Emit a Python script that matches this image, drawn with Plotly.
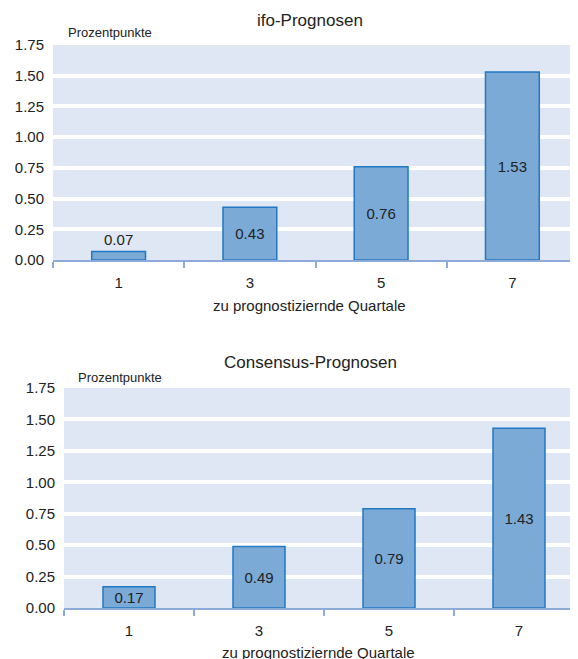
import plotly.graph_objects as go

categories = ["1", "3", "5", "7"]
ifo_values = [0.07, 0.43, 0.76, 1.53]
consensus_values = [0.17, 0.49, 0.79, 1.43]
ifo_labels = ["0.07", "0.43", "0.76", "1.53"]
consensus_labels = ["0.17", "0.49", "0.79", "1.43"]
ifo_textpos = ["outside", "inside", "inside", "inside"]
consensus_textpos = ["inside", "inside", "inside", "inside"]
y_tickvals = [0, 0.25, 0.5, 0.75, 1.0, 1.25, 1.5, 1.75]
y_ticktext = ["0.00", "0.25", "0.50", "0.75", "1.00", "1.25", "1.50", "1.75"]

FONT = "Liberation Sans, Arial, sans-serif"
BAR_FILL = "#7aaad5"
BAR_LINE = "#2179c3"
BG = "#dfe6f4"
AXIS = "#8eaadb"
TXT = "#222222"

OFF = 8.0  # page body margin
W = 570.0
H = 651.0

def px(x):
    return (x - OFF) / W

def py(y):
    return 1 - (y - OFF) / H

fig = go.Figure()
fig.add_trace(go.Bar(x=categories, y=ifo_values, text=ifo_labels, textposition=ifo_textpos,
                     insidetextanchor="middle", constraintext="none", cliponaxis=False,
                     marker=dict(color=BAR_FILL, line=dict(color=BAR_LINE, width=1.5)),
                     textfont=dict(family=FONT, size=15, color=TXT),
                     width=0.41, xaxis="x", yaxis="y", hoverinfo="skip"))
fig.add_trace(go.Bar(x=categories, y=consensus_values, text=consensus_labels, textposition=consensus_textpos,
                     insidetextanchor="middle", constraintext="none", cliponaxis=False,
                     marker=dict(color=BAR_FILL, line=dict(color=BAR_LINE, width=1.5)),
                     textfont=dict(family=FONT, size=15, color=TXT),
                     width=0.40, xaxis="x2", yaxis="y2", hoverinfo="skip"))

def yax(domain, anchor):
    return dict(domain=domain, anchor=anchor, range=[0, 1.75], tickvals=y_tickvals, ticktext=y_ticktext,
                showgrid=True, gridcolor="white", gridwidth=3.5, zeroline=False, showline=False,
                tickfont=dict(family=FONT, size=15, color=TXT), ticks="", ticklabelstandoff=8,
                automargin=False, fixedrange=True)

def xax(domain, anchor, rng):
    return dict(domain=domain, anchor=anchor, type="category", range=rng, showgrid=False, zeroline=False,
                showline=True, linecolor=AXIS, linewidth=1.5, ticks="outside", tickson="boundaries",
                ticklen=6, tickcolor=AXIS, tickwidth=1.5, ticklabelstandoff=8,
                tickfont=dict(family=FONT, size=15, color=TXT), automargin=False, fixedrange=True)

# bottom panel: category width ~130 px, plot area runs past the right window edge
bottom_span = (578 - 64) / 130.0

fig.update_layout(
    width=int(W), height=int(H), margin=dict(l=0, r=0, t=0, b=0),
    paper_bgcolor="white", plot_bgcolor=BG, showlegend=False, bargap=0.6,
    xaxis=xax([px(53), 1.0], "y", [-0.5, 3.5]),
    yaxis=yax([py(260), py(45)], "x"),
    xaxis2=xax([px(64), 1.0], "y2", [-0.5, -0.5 + bottom_span]),
    yaxis2=yax([py(608), py(388)], "x2"),
)

def ann(text, x, y, size, xanchor="center"):
    fig.add_annotation(text=text, x=px(x), y=py(y), xref="paper", yref="paper",
                       xanchor=xanchor, yanchor="middle", showarrow=False,
                       font=dict(family=FONT, size=size, color=TXT))

ann("ifo-Prognosen", 310, 20, 17)
ann("Prozentpunkte", 66, 33, 13, "left")
ann("zu prognostiziernde Quartale", 309, 305, 15)
ann("Consensus-Prognosen", 310, 362, 17)
ann("Prozentpunkte", 76, 377, 13, "left")
ann("zu prognostiziernde Quartale", 318, 652, 15)

fig.write_html("out.html")
